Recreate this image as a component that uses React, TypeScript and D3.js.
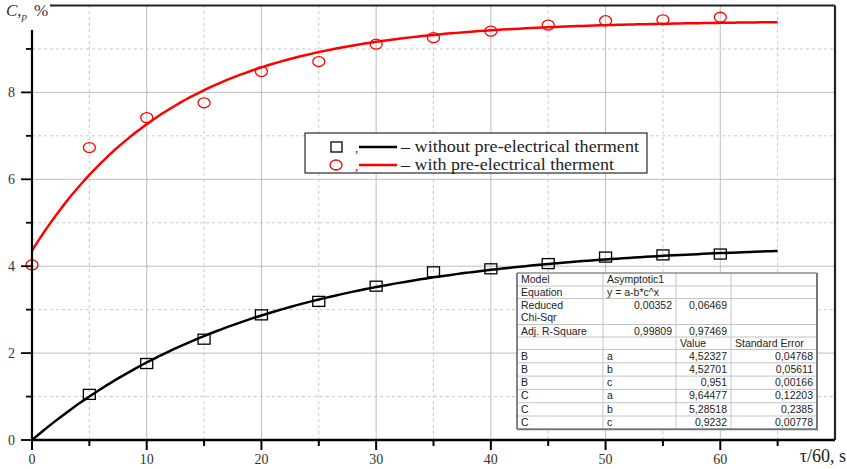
import React from 'react';
import * as d3 from 'd3';

// measured points, time in minutes (tau/60)
const timeB = [5, 10, 15, 20, 25, 30, 35, 40, 45, 50, 55, 60];
const cpB = [1.05, 1.76, 2.32, 2.88, 3.19, 3.54, 3.87, 3.94, 4.06, 4.21, 4.26, 4.28];
const timeC = [0, 5, 10, 15, 20, 25, 30, 35, 40, 45, 50, 55, 60];
const cpC = [4.03, 6.73, 7.42, 7.76, 8.48, 8.71, 9.11, 9.26, 9.41, 9.55, 9.65, 9.67, 9.73];

// Asymptotic1 fit parameters y = a - b*c^x  (series B, series C)
const fitA = [4.52327, 9.64477];
const fitB = [4.52701, 5.28518];
const fitC = [0.951, 0.9232];
const fitEnd = 65;

const xMajor = [0, 10, 20, 30, 40, 50, 60];
const xMinor = [5, 15, 25, 35, 45, 55, 65];
const yMajor = [0, 2, 4, 6, 8];
const yMinor = [1, 3, 5, 7, 9];

const legendLabels = ['– without pre-electrical therment', '– with pre-electrical therment'];
const legendWidths = [238, 213];

const tableRows: string[][] = [
  ['Model', 'Asymptotic1', '', ''],
  ['Equation', 'y = a-b*c^x', '', ''],
  ['Reduced\nChi-Sqr', '0,00352', '0,06469', ''],
  ['Adj. R-Square', '0,99809', '0,97469', ''],
  ['', '', 'Value', 'Standard Error'],
  ['B', 'a', '4,52327', '0,04768'],
  ['B', 'b', '4,52701', '0,05611'],
  ['B', 'c', '0,951', '0,00166'],
  ['C', 'a', '9,64477', '0,12203'],
  ['C', 'b', '5,28518', '0,2385'],
  ['C', 'c', '0,9232', '0,00778'],
];

const W = 847;
const H = 469;
const serif = '"Liberation Serif", "DejaVu Serif", serif';
const sans = '"Liberation Sans", Arial, sans-serif';

export default function App() {
  const x = d3.scaleLinear().domain([0, 70]).range([32, 835]);
  const y = d3.scaleLinear().domain([0, 10]).range([440, 5.5]);

  const line = d3.line<[number, number]>().x(d => x(d[0])).y(d => y(d[1])).curve(d3.curveMonotoneX);
  const fitPath = (i: number) =>
    line(d3.range(0, fitEnd + 0.01, 0.5).map(t => [t, fitA[i] - fitB[i] * Math.pow(fitC[i], t)] as [number, number])) || '';

  // table layout
  const tx = [517, 603, 676, 731, 817];
  const rowH = [13, 12.5, 26, 12.5, 12.5, 13.3, 13.3, 13.3, 13.3, 13.3, 13.3];
  const ty0 = 273;
  const ty: number[] = [ty0];
  rowH.forEach(h => ty.push(ty[ty.length - 1] + h));
  const rightAlign = (r: number, c: number) => (c === 1 && (r === 2 || r === 3)) || (c >= 2 && r !== 4);

  const lg = { x: 305, y: 133, w: 342, h: 40 };

  return (
    <svg width={W} height={H} style={{ position: 'absolute', left: 0, top: 0, background: '#fff' }}>
      {/* grid */}
      <g>
        {xMinor.map(v => (
          <line key={'xm' + v} x1={x(v)} x2={x(v)} y1={y(0)} y2={y(10)} stroke="#c8c8c8" strokeDasharray="3,3" strokeWidth={1} />
        ))}
        {xMajor.slice(1).map(v => (
          <line key={'xM' + v} x1={x(v)} x2={x(v)} y1={y(0)} y2={y(10)} stroke="#bdbdbd" strokeWidth={1} />
        ))}
        {yMinor.map(v => (
          <line key={'ym' + v} x1={x(0)} x2={x(70)} y1={y(v)} y2={y(v)} stroke="#c8c8c8" strokeDasharray="3,3" strokeWidth={1} />
        ))}
        {yMajor.slice(1).map(v => (
          <line key={'yM' + v} x1={x(0)} x2={x(70)} y1={y(v)} y2={y(v)} stroke="#bdbdbd" strokeWidth={1} />
        ))}
      </g>

      {/* fitted curves */}
      <path d={fitPath(0)} fill="none" stroke="#000" strokeWidth={2.5} />
      <path d={fitPath(1)} fill="none" stroke="#ff0000" strokeWidth={2.5} />

      {/* markers */}
      {timeB.map((t, i) => (
        <rect key={'b' + i} x={x(t) - 6} y={y(cpB[i]) - 5} width={12} height={10} fill="none" stroke="#000" strokeWidth={1.3} />
      ))}
      {timeC.map((t, i) => (
        <ellipse key={'c' + i} cx={x(t)} cy={y(cpC[i])} rx={6} ry={5} fill="none" stroke="#ff0000" strokeWidth={1.3} />
      ))}

      {/* frame & axes */}
      <line x1={50} x2={x(70)} y1={y(10)} y2={y(10)} stroke="#222" strokeWidth={2.2} />
      <line x1={x(70)} x2={x(70)} y1={y(10)} y2={y(0)} stroke="#222" strokeWidth={2.2} />
      <line x1={x(0)} x2={x(0)} y1={30} y2={y(0)} stroke="#000" strokeWidth={2.2} />
      <line x1={x(0)} x2={x(70)} y1={y(0)} y2={y(0)} stroke="#000" strokeWidth={2.4} />

      {xMajor.map(v => (
        <g key={'xt' + v}>
          <line x1={x(v)} x2={x(v)} y1={y(0)} y2={y(0) + 10} stroke="#000" strokeWidth={2} />
          <text x={x(v)} y={464} textAnchor="middle" fontFamily={serif} fontSize={14} fill="#333">{v}</text>
        </g>
      ))}
      {xMinor.map(v => (
        <line key={'xmt' + v} x1={x(v)} x2={x(v)} y1={y(0)} y2={y(0) + 6} stroke="#000" strokeWidth={2} />
      ))}
      {yMajor.map(v => (
        <g key={'yt' + v}>
          <line x1={x(0) - 11} x2={x(0)} y1={y(v)} y2={y(v)} stroke="#000" strokeWidth={1.8} />
          <text x={15} y={y(v) + 5} textAnchor="end" fontFamily={serif} fontSize={14} fill="#333">{v}</text>
        </g>
      ))}
      {yMinor.map(v => (
        <line key={'ymt' + v} x1={x(0) - 6} x2={x(0)} y1={y(v)} y2={y(v)} stroke="#000" strokeWidth={1.8} />
      ))}

      {/* axis titles */}
      <text x={6} y={16} fontFamily={serif} fontSize={17} fill="#333">
        <tspan fontStyle="italic">C</tspan>
        <tspan>,</tspan>
        <tspan fontStyle="italic" fontSize={11} dy={4}>p</tspan>
        <tspan dy={-4} dx={7}>%</tspan>
      </text>
      <text x={846} y={462} textAnchor="end" fontFamily={serif} fontSize={18} fill="#222">τ/60, s</text>

      {/* legend */}
      <rect x={lg.x} y={lg.y} width={lg.w} height={lg.h} fill="#fff" stroke="#000" strokeWidth={1} />
      {legendLabels.map((lbl, i) => {
        const cy = lg.y + 14 + i * 18;
        const col = i === 0 ? '#000' : '#ff0000';
        return (
          <g key={'lg' + i}>
            {i === 0 ? (
              <rect x={331} y={cy - 5} width={11} height={10} fill="none" stroke="#000" strokeWidth={1.3} />
            ) : (
              <ellipse cx={336} cy={cy} rx={6} ry={5} fill="none" stroke="#ff0000" strokeWidth={1.3} />
            )}
            <text x={355} y={cy + 5} fontFamily={serif} fontSize={13} fill="#333">,</text>
            <line x1={359} x2={397} y1={cy} y2={cy} stroke={col} strokeWidth={2.5} />
            <text x={401} y={cy + 5} fontFamily={serif} fontSize={17} fill="#222"
              textLength={legendWidths[i]} lengthAdjust="spacingAndGlyphs">{lbl}</text>
          </g>
        );
      })}

      {/* fit results table */}
      <rect x={tx[0]} y={ty[0]} width={tx[4] - tx[0]} height={ty[ty.length - 1] - ty[0]} fill="#fff" />
      {ty.slice(1, -1).map((yy, i) => (
        <line key={'tr' + i} x1={tx[0]} x2={tx[4]} y1={yy} y2={yy} stroke="#c4c4c4" strokeWidth={1} />
      ))}
      {tx.slice(1, -1).map((xx, i) => (
        <line key={'tc' + i} x1={xx} x2={xx} y1={ty[0]} y2={ty[ty.length - 1]} stroke="#c4c4c4" strokeWidth={1} />
      ))}
      <line x1={tx[0]} x2={tx[4]} y1={ty[0]} y2={ty[0]} stroke="#555" strokeWidth={1} />
      <line x1={tx[0]} x2={tx[0]} y1={ty[0]} y2={ty[ty.length - 1]} stroke="#333" strokeWidth={1.2} />
      <line x1={tx[4]} x2={tx[4]} y1={ty[0]} y2={ty[ty.length - 1] + 1} stroke="#777" strokeWidth={2} />
      <line x1={tx[0]} x2={tx[4] + 1} y1={ty[ty.length - 1]} y2={ty[ty.length - 1]} stroke="#777" strokeWidth={2} />
      {tableRows.map((row, r) =>
        row.map((cell, c) => {
          if (!cell) return null;
          const ra = rightAlign(r, c);
          const lines = cell.split('\n');
          return (
            <text
              key={`t${r}-${c}`}
              x={ra ? tx[c + 1] - 4 : tx[c] + 4}
              y={ty[r] + 10}
              textAnchor={ra ? 'end' : 'start'}
              fontFamily={sans}
              fontSize={10.5}
              fill="#222"
            >
              {lines.map((l, k) => (
                <tspan key={k} x={ra ? tx[c + 1] - 4 : tx[c] + 4} dy={k === 0 ? 0 : 12}>{l}</tspan>
              ))}
            </text>
          );
        })
      )}
    </svg>
  );
}
